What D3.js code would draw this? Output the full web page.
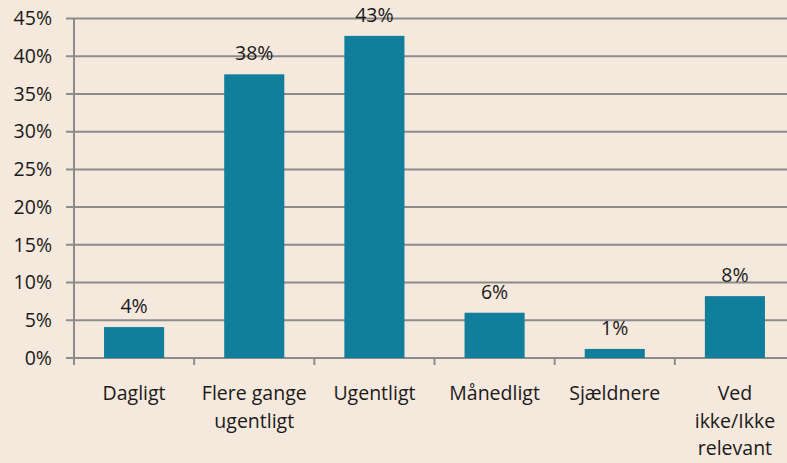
<!DOCTYPE html>
<html>
<head>
<meta charset="utf-8">
<script src="https://cdn.jsdelivr.net/npm/d3@7"></script>
<style>
  body { margin: 0; background: #f5e8dc; }
  svg { display: block; font-family: "Open Sans", "Noto Sans", sans-serif; }
</style>
</head>
<body>
<svg class="chart"></svg>
<script>
var width = 787,
    height = 463;

var categories = [["Dagligt"], ["Flere gange", "ugentligt"], ["Ugentligt"], ["Månedligt"], ["Sjældnere"], ["Ved", "ikke/Ikke", "relevant"]];
var values = [4.1, 37.6, 42.7, 6.0, 1.2, 8.2];
var labels = ["4%", "38%", "43%", "6%", "1%", "8%"];
var yTicks = [0, 5, 10, 15, 20, 25, 30, 35, 40, 45];

var plotLeft = 74, plotRight = 795, plotTop = 18.5, plotBottom = 358;
var fontSize = 19.5;

var chart = d3.select(".chart")
    .attr("width", width)
    .attr("height", height);

chart.append("rect")
    .attr("width", width).attr("height", height)
    .attr("fill", "#f5e8dc");

var x = d3.scaleBand()
    .domain(d3.range(categories.length))
    .range([plotLeft, plotRight])
    .paddingInner(0.5)
    .paddingOuter(0.25);

var y = d3.scaleLinear()
    .domain([0, 45])
    .range([plotBottom, plotTop]);

// gridlines
chart.selectAll(".grid")
    .data(yTicks)
  .enter().append("line")
    .attr("x1", plotLeft - 8)
    .attr("x2", width)
    .attr("y1", function(d) { return y(d); })
    .attr("y2", function(d) { return y(d); })
    .attr("stroke", "#8c8c8c")
    .attr("stroke-width", 2);

// y tick labels
chart.selectAll(".ylab")
    .data(yTicks)
  .enter().append("text")
    .attr("x", 52)
    .attr("y", function(d) { return y(d); })
    .attr("dy", "0.35em")
    .attr("text-anchor", "end")
    .attr("font-size", fontSize)
    .attr("fill", "#1a1a1a")
    .text(function(d) { return d + "%"; });

// y axis line
chart.append("line")
    .attr("x1", plotLeft).attr("x2", plotLeft)
    .attr("y1", plotTop).attr("y2", plotBottom + 7)
    .attr("stroke", "#8c8c8c")
    .attr("stroke-width", 2);

// category ticks
var step = x.step();
chart.selectAll(".xtick")
    .data(d3.range(1, categories.length))
  .enter().append("line")
    .attr("x1", function(d) { return plotLeft + d * step; })
    .attr("x2", function(d) { return plotLeft + d * step; })
    .attr("y1", plotBottom)
    .attr("y2", plotBottom + 7)
    .attr("stroke", "#8c8c8c")
    .attr("stroke-width", 2);

// bars
chart.selectAll(".bar")
    .data(values)
  .enter().append("rect")
    .attr("x", function(d, i) { return x(i); })
    .attr("y", function(d) { return y(d); })
    .attr("width", x.bandwidth())
    .attr("height", function(d) { return plotBottom - y(d); })
    .attr("fill", "#117e9c");

// value labels
chart.selectAll(".val")
    .data(values)
  .enter().append("text")
    .attr("x", function(d, i) { return x(i) + x.bandwidth() / 2; })
    .attr("y", function(d) { return y(d) - 14; })
    .attr("text-anchor", "middle")
    .attr("font-size", fontSize)
    .attr("fill", "#1a1a1a")
    .text(function(d, i) { return labels[i]; });

// category labels
var cat = chart.selectAll(".cat")
    .data(categories)
  .enter().append("text")
    .attr("x", function(d, i) { return x(i) + x.bandwidth() / 2; })
    .attr("y", 400)
    .attr("text-anchor", "middle")
    .attr("font-size", fontSize)
    .attr("fill", "#1a1a1a");

cat.selectAll("tspan")
    .data(function(d) { return d; })
  .enter().append("tspan")
    .attr("x", function() { return d3.select(this.parentNode).attr("x"); })
    .attr("dy", function(d, i) { return i === 0 ? 0 : 27.5; })
    .text(function(d) { return d; });
</script>
</body>
</html>
